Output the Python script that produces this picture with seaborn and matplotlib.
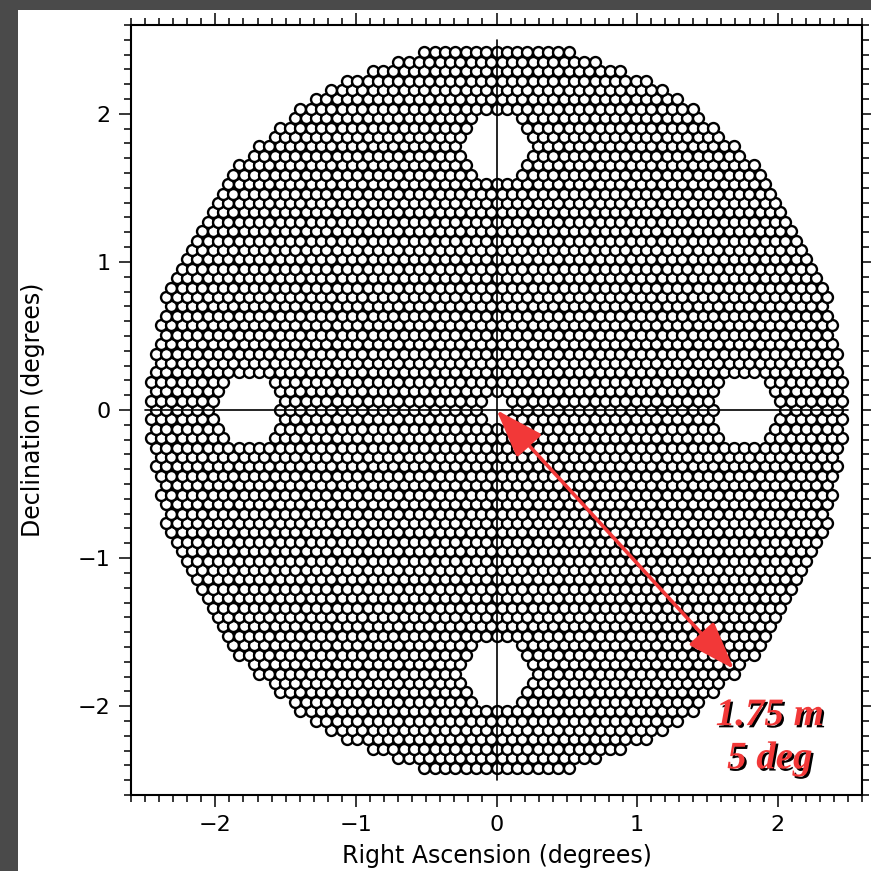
import numpy as np
import pandas as pd
import matplotlib
matplotlib.use("Agg")
import matplotlib.pyplot as plt
import matplotlib.patheffects as pe
from matplotlib.patches import FancyArrowPatch, Rectangle
from matplotlib.ticker import MultipleLocator
import seaborn as sns

# ---- layout parameters of the fiber focal plane (degrees) ----
pitch = 0.0734            # centre-to-centre spacing of positioners
field_radius = 2.475      # outer radius of the patrol field
hole_x = [0.0, 0.0, 1.78, -1.78]   # guide/wavefront sensor holes
hole_y = [1.78, -1.78, 0.0, 0.0]
hole_radius = 0.235
center_hole_radius = 0.08

# annotation
arrow_start = (0.0, 0.0)
arrow_end = (1.69, -1.75)
label_lines = ["1.75 m", "5 deg"]
label_x = 1.945
label_y = [-2.128, -2.42]

xlim = (-2.6, 2.6)
ylim = (-2.6, 2.6)
major_ticks = [-2, -1, 0, 1, 2]

# ---- build hexagonal lattice of positioners ----
rows = np.arange(-40, 41)
cols = np.arange(-40, 41)
xs, ys = [], []
for k in rows:
    y = k * pitch * np.sqrt(3) / 2
    off = 0.5 * pitch if k % 2 else 0.0
    for j in cols:
        x = j * pitch + off
        r = np.hypot(x, y)
        if r > field_radius or r < center_hole_radius:
            continue
        if any(np.hypot(x - hx, y - hy) < hole_radius for hx, hy in zip(hole_x, hole_y)):
            continue
        xs.append(x)
        ys.append(y)
df = pd.DataFrame({"ra": xs, "dec": ys})

# ---- figure ----
sns.set_style("ticks")
plt.rcParams["font.family"] = ["DejaVu Sans"]
plt.rcParams["text.color"] = "black"
plt.rcParams["axes.labelcolor"] = "black"
plt.rcParams["xtick.color"] = "black"
plt.rcParams["ytick.color"] = "black"

W = H = 871
fig = plt.figure(figsize=(8.71, 8.71), dpi=100, facecolor="#4a4a4a")
fig.add_artist(Rectangle((18 / W, 0), 1 - 18 / W, 1 - 10 / H,
                         transform=fig.transFigure, facecolor="white",
                         edgecolor="none", zorder=-10))
ax = fig.add_axes([131 / W, 76 / H, 731 / W, 770 / H])
ax.set_zorder(1)
ax.set_facecolor("white")

sns.scatterplot(data=df, x="ra", y="dec", ax=ax, s=62, marker="o",
                facecolor="white", edgecolor="black", linewidth=1.7,
                legend=False, zorder=2)

ax.plot([0, 0], [-2.5, 2.5], color="black", lw=1.2, zorder=3)
ax.plot([-2.5, 2.5], [0, 0], color="black", lw=1.2, zorder=3)

arrow = FancyArrowPatch(arrow_start, arrow_end,
                        arrowstyle="<|-|>,head_length=3.0,head_width=1.05",
                        mutation_scale=10, color="#f23838", lw=2.6,
                        shrinkA=0, shrinkB=0, zorder=4)
ax.add_patch(arrow)

for txt, ty in zip(label_lines, label_y):
    ax.text(label_x, ty, txt, ha="center", va="baseline", color="#f23838",
            fontsize=28, fontweight="bold", fontstyle="italic",
            family=["Liberation Serif", "DejaVu Serif"], zorder=5,
            path_effects=[pe.SimplePatchShadow(offset=(1.6, -1.6),
                                               shadow_rgbFace="black", alpha=1.0),
                          pe.Normal()])

ax.set_xlim(*xlim)
ax.set_ylim(*ylim)
ax.set_xticks(major_ticks)
ax.set_yticks(major_ticks)
ax.xaxis.set_minor_locator(MultipleLocator(0.1))
ax.yaxis.set_minor_locator(MultipleLocator(0.1))
ax.tick_params(which="both", direction="out", top=True, right=True,
               labeltop=False, labelright=False, color="black",
               labelcolor="black", width=1.1)
ax.tick_params(which="major", length=8.6, labelsize=16, pad=6)
ax.tick_params(which="minor", length=5)
for sp in ax.spines.values():
    sp.set_linewidth(1.5)
    sp.set_color("black")

ax.set_xlabel("Right Ascension (degrees)", fontsize=17, color="black")
ax.set_ylabel("Declination (degrees)", fontsize=17, color="black")
ax.xaxis.set_label_coords(0.5, -0.063)
ax.yaxis.set_label_coords(-0.118, 0.5)

fig.savefig("out.png", dpi=100, facecolor=fig.get_facecolor())
